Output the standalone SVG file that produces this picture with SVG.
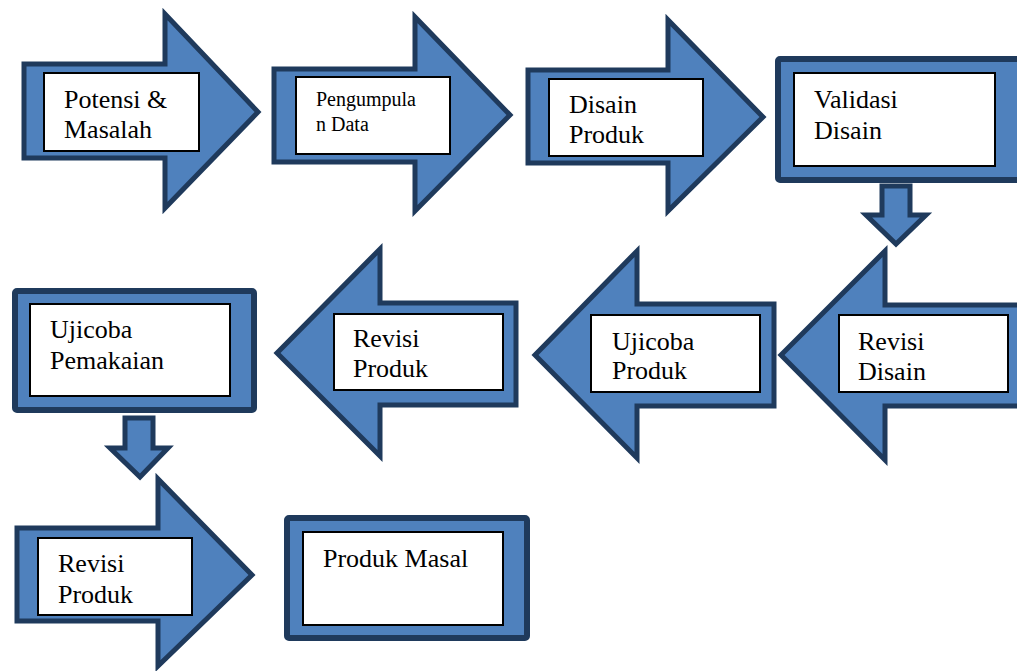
<svg xmlns="http://www.w3.org/2000/svg" width="1017" height="671" viewBox="0 0 1017 671">
  <style>
    .arrow { fill: #4F81BD; stroke: #1F3A5C; stroke-width: 5; stroke-linejoin: miter; }
    .frame { fill: #4F81BD; stroke: #1F3A5C; stroke-width: 6; }
    .label { fill: #ffffff; stroke: #000000; stroke-width: 2; }
    text { font-family: 'Liberation Serif', 'DejaVu Serif', 'Times New Roman', serif; font-size: 26px; fill: #000000; }
    text.small { font-size: 20px; }
  </style>
  <rect width="1017" height="671" fill="#ffffff"/>

  <!-- connectors: small down arrows between rows -->
  <g id="connectors">
    <polygon class="arrow" points="882,186 910,186 910,215 926,215 896,244 866,215 882,215"/>
    <polygon class="arrow" points="125,418 153,418 153,448 168,448 140,477 110,448 125,448"/>
  </g>

  <g id="potensi-masalah">
    <polygon class="arrow" points="24,64 165,64 165,14 258,112 165,208 165,158 24,158"/>
    <rect class="label" x="44" y="73" width="155" height="78"/>
    <text font-family="Liberation Serif, serif" x="64" y="108">Potensi &amp;</text>
    <text font-family="Liberation Serif, serif" x="64" y="138">Masalah</text>
  </g>

  <g id="pengumpulan-data">
    <polygon class="arrow" points="274,69 415,69 415,17 510,115 415,211 415,162 274,162"/>
    <rect class="label" x="296" y="77" width="154" height="77"/>
    <text class="small" font-family="Liberation Serif, serif" x="316" y="106">Pengumpula</text>
    <text class="small" font-family="Liberation Serif, serif" x="316" y="131">n Data</text>
  </g>

  <g id="disain-produk">
    <polygon class="arrow" points="528,70 668,70 668,20 763,117 668,211 668,163 528,163"/>
    <rect class="label" x="549" y="79" width="154" height="77"/>
    <text font-family="Liberation Serif, serif" x="569" y="113">Disain</text>
    <text font-family="Liberation Serif, serif" x="569" y="143">Produk</text>
  </g>

  <g id="validasi-disain">
    <rect class="frame" x="778" y="59" width="245" height="121" rx="2"/>
    <rect class="label" x="794" y="73" width="201" height="93"/>
    <text font-family="Liberation Serif, serif" x="814" y="108">Validasi</text>
    <text font-family="Liberation Serif, serif" x="814" y="139">Disain</text>
  </g>

  <g id="revisi-disain">
    <polygon class="arrow" points="781,355 885,251 885,305 1025,305 1025,406 885,406 885,460"/>
    <rect class="label" x="839" y="315" width="169" height="77"/>
    <text font-family="Liberation Serif, serif" x="858" y="350">Revisi</text>
    <text font-family="Liberation Serif, serif" x="858" y="380">Disain</text>
  </g>

  <g id="ujicoba-produk">
    <polygon class="arrow" points="535,355 637,251 637,304 774,304 774,406 637,406 637,458"/>
    <rect class="label" x="591" y="315" width="169" height="77"/>
    <text font-family="Liberation Serif, serif" x="612" y="350">Ujicoba</text>
    <text font-family="Liberation Serif, serif" x="612" y="379">Produk</text>
  </g>

  <g id="revisi-produk-1">
    <polygon class="arrow" points="277,353 380,249 380,303 516,303 516,405 380,405 380,456"/>
    <rect class="label" x="334" y="314" width="169" height="76"/>
    <text font-family="Liberation Serif, serif" x="353" y="347">Revisi</text>
    <text font-family="Liberation Serif, serif" x="353" y="377">Produk</text>
  </g>

  <g id="ujicoba-pemakaian">
    <rect class="frame" x="15" y="291" width="239" height="119" rx="2"/>
    <rect class="label" x="30" y="304" width="200" height="92"/>
    <text font-family="Liberation Serif, serif" x="50" y="338">Ujicoba</text>
    <text font-family="Liberation Serif, serif" x="50" y="369">Pemakaian</text>
  </g>

  <g id="revisi-produk-2">
    <polygon class="arrow" points="17,528 158,528 158,479 252,575 158,666 158,621 17,621"/>
    <rect class="label" x="38" y="538" width="154" height="77"/>
    <text font-family="Liberation Serif, serif" x="58" y="572">Revisi</text>
    <text font-family="Liberation Serif, serif" x="58" y="603">Produk</text>
  </g>

  <g id="produk-masal">
    <rect class="frame" x="287" y="518" width="240" height="120" rx="2"/>
    <rect class="label" x="303" y="532" width="200" height="93"/>
    <text font-family="Liberation Serif, serif" x="323" y="567">Produk Masal</text>
  </g>
</svg>
